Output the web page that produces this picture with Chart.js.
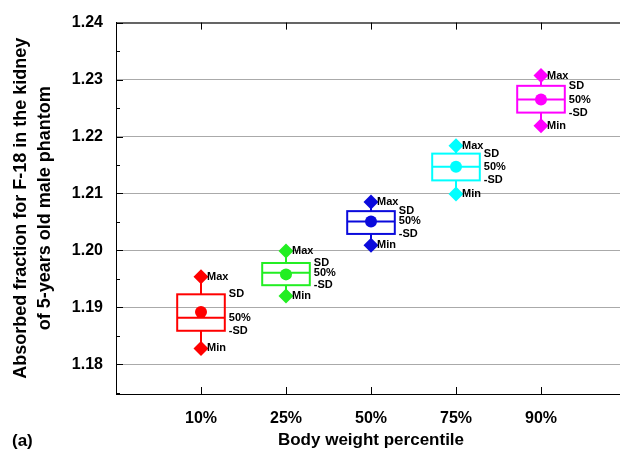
<!DOCTYPE html>
<html lang="en">
<head>
  <meta charset="UTF-8">
  <title>Absorbed fraction for F-18 in the kidney</title>
  <script src="https://cdn.jsdelivr.net/npm/chart.js"></script>
  <style>
    body {
      margin: 0;
      background: #ffffff;
      overflow: hidden;
    }
    #wrap {
      width: 640px;
      height: 455px;
    }
  </style>
</head>
<body>
  <div id="wrap"><canvas id="boxChart" width="640" height="455"></canvas></div>

  <script>
    const categories = ['10%', '25%', '50%', '75%', '90%'];
    const colors = ['#ff0000', '#22ee22', '#0a0adc', '#00ffff', '#ff00ff'];
    const maxVals    = [1.1954, 1.1999, 1.2085, 1.2184, 1.2307];
    const sdHigh     = [1.1923, 1.1978, 1.2069, 1.2170, 1.2289];
    const meanVals   = [1.1892, 1.1958, 1.2051, 1.2147, 1.2265];
    const medianVals = [1.1882, 1.1961, 1.2051, 1.2147, 1.2265];
    const sdLow      = [1.1859, 1.1939, 1.2029, 1.2123, 1.2242];
    const minVals    = [1.1828, 1.1920, 1.2009, 1.2099, 1.2219];
    const yTicks = [1.18, 1.19, 1.20, 1.21, 1.22, 1.23, 1.24];
    const yMinorTicks = [1.175, 1.185, 1.195, 1.205, 1.215, 1.225, 1.235];

    const FONT = 'Arial, "Liberation Sans", sans-serif';
    const BOX_HALF = 0.28;

    const datasets = [];
    categories.forEach(function(cat, i) {
      datasets.push({
        label: cat + ' range',
        data: [{x: i + 1, y: maxVals[i]}, {x: i + 1, y: minVals[i]}],
        pointStyle: 'rectRot',
        radius: 7.5,
        backgroundColor: colors[i],
        borderColor: colors[i],
        borderWidth: 0
      });
      datasets.push({
        label: cat + ' mean',
        data: [{x: i + 1, y: meanVals[i]}],
        pointStyle: 'circle',
        radius: 6,
        backgroundColor: colors[i],
        borderColor: colors[i],
        borderWidth: 0
      });
    });

    // boxes, whiskers, inward ticks, frame and labels
    const boxPlugin = {
      id: 'boxPlugin',
      beforeDatasetsDraw(chart) {
        const ctx = chart.ctx;
        const x = chart.scales.x, y = chart.scales.y;
        ctx.save();
        ctx.lineWidth = 2;
        categories.forEach(function(cat, i) {
          const cx = x.getPixelForValue(i + 1);
          const l = x.getPixelForValue(i + 1 - BOX_HALF);
          const r = x.getPixelForValue(i + 1 + BOX_HALF);
          const top = y.getPixelForValue(sdHigh[i]);
          const bot = y.getPixelForValue(sdLow[i]);
          const med = y.getPixelForValue(medianVals[i]);
          ctx.strokeStyle = colors[i];
          ctx.strokeRect(l, top, r - l, bot - top);
          ctx.beginPath();
          ctx.moveTo(l, med); ctx.lineTo(r, med);
          ctx.moveTo(cx, top); ctx.lineTo(cx, y.getPixelForValue(maxVals[i]));
          ctx.moveTo(cx, bot); ctx.lineTo(cx, y.getPixelForValue(minVals[i]));
          ctx.stroke();
        });
        ctx.restore();
      },
      afterDatasetsDraw(chart) {
        const ctx = chart.ctx;
        const x = chart.scales.x, y = chart.scales.y;
        const area = chart.chartArea;
        ctx.save();
        // frame
        ctx.strokeStyle = '#000';
        ctx.lineWidth = 1;
        ctx.strokeRect(area.left + 0.5, area.top + 0.5, area.right - area.left, area.bottom - area.top);
        // inward ticks
        ctx.beginPath();
        yTicks.forEach(function(v) {
          const py = Math.round(y.getPixelForValue(v)) + 0.5;
          ctx.moveTo(area.left, py); ctx.lineTo(area.left + 7, py);
        });
        yMinorTicks.forEach(function(v) {
          const py = Math.round(y.getPixelForValue(v)) + 0.5;
          ctx.moveTo(area.left, py); ctx.lineTo(area.left + 4, py);
        });
        categories.forEach(function(cat, i) {
          const px = Math.round(x.getPixelForValue(i + 1)) + 0.5;
          ctx.moveTo(px, area.bottom); ctx.lineTo(px, area.bottom - 7);
          ctx.moveTo(px, area.top); ctx.lineTo(px, area.top + 7);
        });
        ctx.stroke();
        // point labels
        ctx.fillStyle = '#000';
        ctx.font = 'bold 11px ' + FONT;
        ctx.textAlign = 'left';
        ctx.textBaseline = 'middle';
        categories.forEach(function(cat, i) {
          const cx = x.getPixelForValue(i + 1);
          const r = x.getPixelForValue(i + 1 + BOX_HALF);
          ctx.fillText('Max', cx + 6, y.getPixelForValue(maxVals[i]));
          ctx.fillText('Min', cx + 6, y.getPixelForValue(minVals[i]));
          ctx.fillText('SD', r + 4, y.getPixelForValue(sdHigh[i]));
          ctx.fillText('50%', r + 4, y.getPixelForValue(medianVals[i]));
          ctx.fillText('-SD', r + 4, y.getPixelForValue(sdLow[i]));
        });
        // panel tag
        ctx.font = 'bold 17px ' + FONT;
        ctx.fillText('(a)', 12, 441);
        ctx.restore();
      }
    };

    const ctx = document.getElementById('boxChart').getContext('2d');
    new Chart(ctx, {
      type: 'scatter',
      data: { datasets: datasets },
      options: {
        responsive: false,
        animation: false,
        layout: { padding: { top: 17, right: 14, left: 0, bottom: 0 } },
        plugins: {
          legend: { display: false },
          tooltip: { enabled: false }
        },
        scales: {
          x: {
            type: 'linear',
            min: 0,
            max: 6,
            afterFit: function(scale) { scale.height = 61; },
            afterBuildTicks: function(scale) {
              scale.ticks = categories.map(function(c, i) { return {value: i + 1}; });
            },
            ticks: {
              color: '#000',
              padding: 15,
              font: { family: FONT, size: 16, weight: 'bold' },
              callback: function(value) { return categories[value - 1] || ''; }
            },
            grid: { display: false, drawTicks: false },
            border: { color: '#000', width: 1 },
            title: {
              display: true,
              text: 'Body weight percentile',
              color: '#000',
              padding: { top: 0, bottom: 4 },
              font: { family: FONT, size: 17, weight: 'bold' }
            }
          },
          y: {
            min: 1.1748,
            max: 1.24,
            afterFit: function(scale) { scale.width = 116; },
            afterBuildTicks: function(scale) {
              scale.ticks = yTicks.map(function(v) { return {value: v}; });
            },
            ticks: {
              color: '#000',
              padding: 13,
              font: { family: FONT, size: 16, weight: 'bold' },
              callback: function(value) { return value.toFixed(2); }
            },
            grid: { color: '#aaaaaa', lineWidth: 1, drawTicks: false },
            border: { color: '#000', width: 1 },
            title: {
              display: true,
              text: ['Absorbed fraction for F-18 in the kidney', 'of 5-years old male phantom'],
              color: '#000',
              padding: { top: 10, bottom: 0 },
              font: { family: FONT, size: 18, weight: 'bold', lineHeight: 1.28 }
            }
          }
        }
      },
      plugins: [boxPlugin]
    });
  </script>
</body>
</html>
